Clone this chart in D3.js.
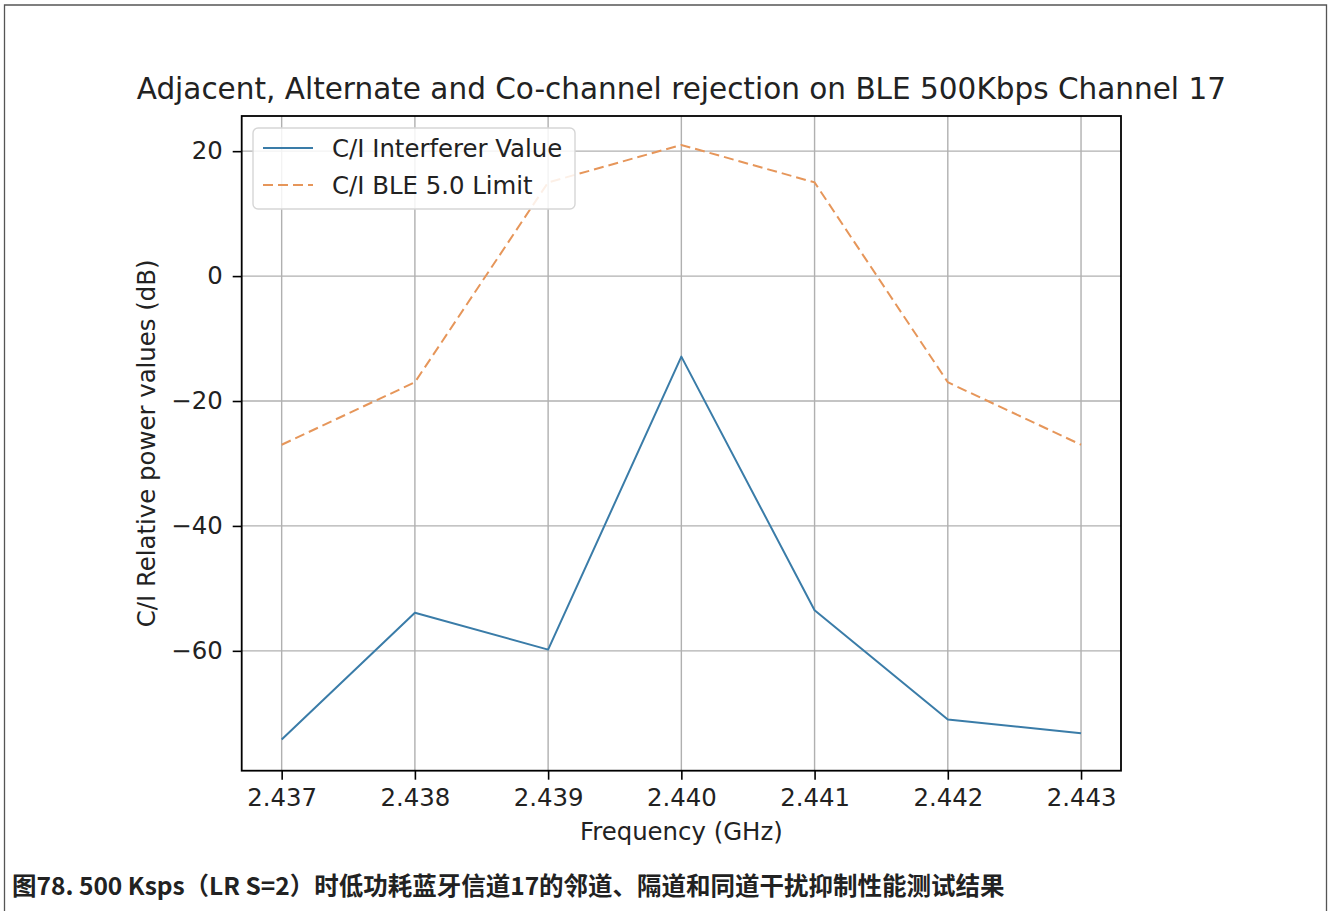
<!DOCTYPE html>
<html>
<head>
<meta charset="utf-8">
<script src="https://cdn.jsdelivr.net/npm/d3@7/dist/d3.min.js"></script>
<style>
  html, body { margin: 0; padding: 0; background: #fff; }
  svg { display: block; }
  text { font-family: "DejaVu Sans", sans-serif; fill: #222; }
</style>
</head>
<body>
<svg id="chart" width="1329" height="911"></svg>
<script>
// Channel offsets (GHz) around BLE channel 17
const frequencies = [2.437, 2.438, 2.439, 2.440, 2.441, 2.442, 2.443];
// Measured C/I interferer values (dB)
const interfererValues = [-74.2, -53.9, -59.8, -12.9, -53.5, -71.0, -73.2];
// BLE 5.0 specification C/I limits (dB)
const bleLimitValues = [-27, -17, 15, 21, 15, -17, -27];
const xTickValues = [2.437, 2.438, 2.439, 2.440, 2.441, 2.442, 2.443];
const yTickValues = [-60, -40, -20, 0, 20];
const seriesNames = ["C/I Interferer Value", "C/I BLE 5.0 Limit"];

const titleText = "Adjacent, Alternate and Co-channel rejection on BLE 500Kbps Channel 17";
const xLabelText = "Frequency (GHz)";
const yLabelText = "C/I Relative power values (dB)";
const captionText = "图78. 500 Ksps（LR S=2）时低功耗蓝牙信道17的邻道、隔道和同道干扰抑制性能测试结果";

const svg = d3.select("#chart");

// Plot area
const plot = { left: 241.7, top: 116, right: 1121, bottom: 770.7 };

const x = d3.scaleLinear().domain([2.4367, 2.4433]).range([plot.left, plot.right]);
const y = d3.scaleLinear().domain([-79.19, 25.63]).range([plot.bottom, plot.top]);

// Page frame
svg.append("path")
  .attr("d", "M4.5,915 L4.5,5 L1326.5,5 L1326.5,915")
  .attr("fill", "none").attr("stroke", "#555").attr("stroke-width", 1.3);

// Grid
const grid = svg.append("g");
grid.selectAll(".gx").data(xTickValues).join("line")
  .attr("x1", d => x(d)).attr("x2", d => x(d))
  .attr("y1", plot.top).attr("y2", plot.bottom)
  .attr("stroke", "#b0b0b0").attr("stroke-width", 1.4);
grid.selectAll(".gy").data(yTickValues).join("line")
  .attr("y1", d => y(d)).attr("y2", d => y(d))
  .attr("x1", plot.left).attr("x2", plot.right)
  .attr("stroke", "#b0b0b0").attr("stroke-width", 1.4);

// Series lines
const line = (vals) => d3.line()
  .x((d, i) => x(frequencies[i]))
  .y(d => y(d))(vals);

svg.append("path")
  .attr("d", line(interfererValues))
  .attr("fill", "none").attr("stroke", "#3a7ca8").attr("stroke-width", 2)
  .attr("stroke-linejoin", "round");

svg.append("path")
  .attr("d", line(bleLimitValues))
  .attr("fill", "none").attr("stroke", "#e6965a").attr("stroke-width", 2)
  .attr("stroke-dasharray", "10,5");

// Axes
const xAxis = d3.axisBottom(x).tickValues(xTickValues)
  .tickFormat(d3.format(".3f")).tickSize(9).tickPadding(9);
const yAxis = d3.axisLeft(y).tickValues(yTickValues)
  .tickFormat(d3.format("d")).tickSize(9).tickPadding(10);

const gx = svg.append("g").attr("transform", `translate(0,${plot.bottom})`).call(xAxis);
const gy = svg.append("g").attr("transform", `translate(${plot.left},0)`).call(yAxis);
[gx, gy].forEach(g => {
  g.select(".domain").remove();
  g.selectAll(".tick line").attr("stroke", "#000").attr("stroke-width", 1.6);
  g.selectAll(".tick text").attr("fill", "#222")
    .style("font-family", "DejaVu Sans").style("font-size", "24.4px");
});

// Spines
svg.append("rect")
  .attr("x", plot.left).attr("y", plot.top)
  .attr("width", plot.right - plot.left).attr("height", plot.bottom - plot.top)
  .attr("fill", "none").attr("stroke", "#000").attr("stroke-width", 1.8);

// Title and axis labels
svg.append("text")
  .attr("x", (plot.left + plot.right) / 2).attr("y", 99)
  .attr("text-anchor", "middle").style("font-size", "29.5px")
  .text(titleText);

svg.append("text")
  .attr("x", (plot.left + plot.right) / 2).attr("y", 840)
  .attr("text-anchor", "middle").style("font-size", "24.4px")
  .text(xLabelText);

svg.append("text")
  .attr("transform", `translate(155,${(plot.top + plot.bottom) / 2}) rotate(-90)`)
  .attr("text-anchor", "middle").style("font-size", "24.4px")
  .text(yLabelText);

// Legend
const legend = svg.append("g").attr("transform", "translate(253,128)");
legend.append("rect")
  .attr("width", 322).attr("height", 81).attr("rx", 5)
  .attr("fill", "rgba(255,255,255,0.85)").attr("stroke", "#d6d6d6").attr("stroke-width", 1.4);
const legendStyles = [
  { stroke: "#3a7ca8", dash: null },
  { stroke: "#e6965a", dash: "10,5" }
];
seriesNames.forEach((name, i) => {
  const ly = 20 + i * 37;
  legend.append("line")
    .attr("x1", 10).attr("x2", 60).attr("y1", ly).attr("y2", ly)
    .attr("stroke", legendStyles[i].stroke).attr("stroke-width", 2)
    .attr("stroke-dasharray", legendStyles[i].dash);
  legend.append("text")
    .attr("x", 79).attr("y", ly + 9).style("font-size", "24.4px")
    .text(name);
});

// Figure caption
svg.append("text")
  .attr("x", 12).attr("y", 895)
  .style("font-family", "'Noto Sans CJK SC', sans-serif")
  .style("font-weight", "bold").style("font-size", "24.5px")
  .attr("fill", "#333")
  .text(captionText);
</script>
</body>
</html>
